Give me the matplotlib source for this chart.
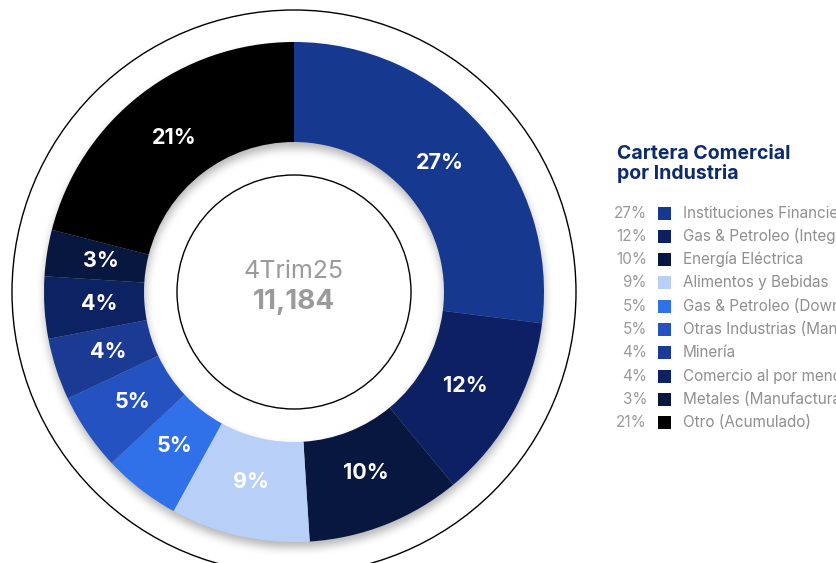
import numpy as np
import matplotlib
matplotlib.use("Agg")
import matplotlib.pyplot as plt
from matplotlib.patches import Circle, Rectangle

plt.rcParams['font.family'] = ['Inter', 'DejaVu Sans']

# data
industries = ['Instituciones Financieras', 'Gas & Petroleo (Integrado)', 'Energía Eléctrica',
              'Alimentos y Bebidas', 'Gas & Petroleo (Downstream)', 'Otras Industrias (Manufactura)',
              'Minería', 'Comercio al por menor', 'Metales (Manufactura)', 'Otro (Acumulado)']
shares = [27, 12, 10, 9, 5, 5, 4, 4, 3, 21]
colors = ['#17388f', '#0c2063', '#08173f', '#b8d0f8', '#3070e8', '#2452c0',
          '#1a3a94', '#0c2263', '#08173f', '#000000']
period = '4Trim25'
total = '11,184'
title = 'Cartera Comercial\npor Industria'

W, H = 836, 563
cx, cy = 294, 292          # centre in pixel coords (from top)
r_out, r_in = 250, 150

fig = plt.figure(figsize=(W / 100, H / 100), dpi=100)
ax = fig.add_axes([0, 0, 1, 1])

# soft drop shadow under the ring
def box_blur(a, k):
    for axis in (0, 1):
        c = np.cumsum(np.pad(a, [(k, k) if i == axis else (0, 0) for i in range(2)], mode='edge'), axis=axis)
        c = np.insert(c, 0, 0, axis=axis)
        n = a.shape[axis]
        a = (np.take(c, np.arange(2 * k + 1, n + 2 * k + 1), axis=axis) -
             np.take(c, np.arange(0, n), axis=axis)) / (2 * k + 1)
    return a

yy, xx = np.mgrid[0:H, 0:W]
rr = np.hypot(xx - cx, yy - (cy + 5))
mask = ((rr >= r_in) & (rr <= r_out)).astype(float)
for _ in range(3):
    mask = box_blur(mask, 4)
shadow = np.zeros((H, W, 4))
shadow[..., 3] = mask * 0.3
ax.imshow(shadow, extent=(0, W, 0, H), origin='upper', zorder=0, interpolation='bilinear')

wedges, _, autotexts = ax.pie(shares, colors=colors, startangle=90, counterclock=False,
                              radius=r_out, center=(cx, H - cy),
                              wedgeprops=dict(width=r_out - r_in, linewidth=0),
                              autopct=lambda p: f'{p:.0f}%', pctdistance=0.78,
                              textprops=dict(color='white', fontsize=15.5, fontweight='bold'))
for w in wedges:
    w.set_zorder(1)
for t in autotexts:
    t.set_zorder(2)

ax.add_patch(Circle((cx, H - cy), 282, fill=False, edgecolor='black', lw=1, zorder=1))
ax.add_patch(Circle((cx, H - cy), 117, fill=False, edgecolor='black', lw=1, zorder=1))

ax.text(cx, H - 271, period, ha='center', va='center', fontsize=18, color='#9a9a9a')
ax.text(cx, H - 302, total, ha='center', va='center', fontsize=20, fontweight='bold', color='#9a9a9a')

ax.text(617, H - 164, title, ha='left', va='center', fontsize=14, fontweight='bold',
        color='#0d2a6b', linespacing=1.1)

y0, dy = 213, 23.3
for i, (name, s, c) in enumerate(zip(industries, shares, colors)):
    y = H - (y0 + i * dy)
    ax.text(647, y, f'{s}%', ha='right', va='center', fontsize=11, color='#9a9a9a')
    ax.add_patch(Rectangle((658, y - 6.5), 13, 13, facecolor=c, edgecolor='none'))
    ax.text(683, y, name, ha='left', va='center', fontsize=11, color='#8f8f8f')

ax.set_xlim(0, W)
ax.set_ylim(0, H)
ax.set_aspect('equal')
ax.axis('off')

fig.savefig('out.png', dpi=100)
